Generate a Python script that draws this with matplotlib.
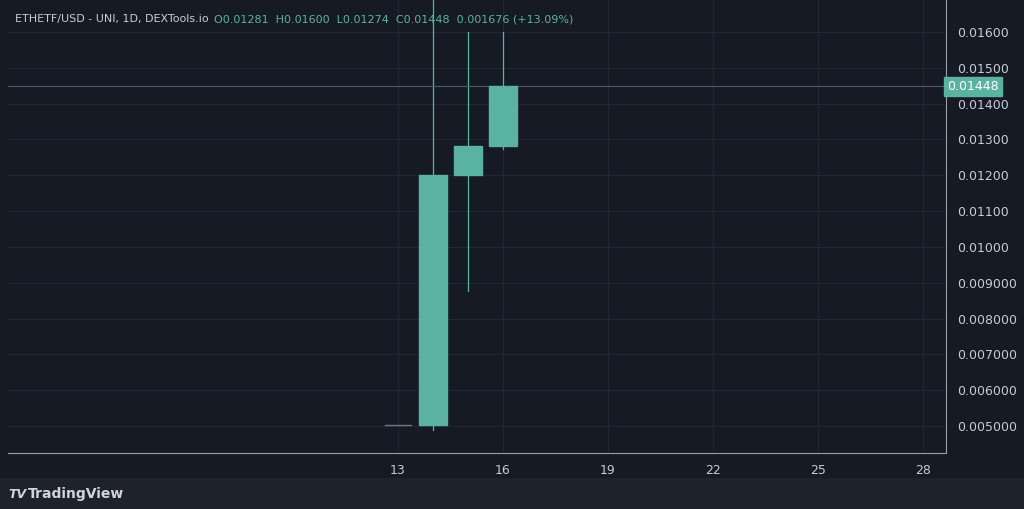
import matplotlib.pyplot as plt
from matplotlib.patches import Rectangle

# Daily candles (day of month)
days = [13, 14, 15, 16]
opens = [0.00504, 0.00504, 0.01200, 0.01281]
highs = [0.00504, 0.01700, 0.01600, 0.01600]
lows = [0.00504, 0.00490, 0.00877, 0.01274]
closes = [0.00504, 0.01200, 0.01281, 0.01448]
price_ticks = [0.005, 0.006, 0.007, 0.008, 0.009, 0.010, 0.011, 0.012, 0.013, 0.014, 0.015, 0.016]
price_labels = ["0.005000", "0.006000", "0.007000", "0.008000", "0.009000", "0.01000",
                "0.01100", "0.01200", "0.01300", "0.01400", "0.01500", "0.01600"]
day_ticks = [13, 16, 19, 22, 25, 28]
last_close = 0.01448

bg = "#161a25"
up = "#5ab3a2"
grid = "#232735"
text = "#c8cbd3"

fig = plt.figure(figsize=(10.24, 5.09), dpi=100, facecolor=bg)
ax = fig.add_axes([8 / 1024, 56 / 509, 938 / 1024, 453 / 509], facecolor=bg)
ax.set_xlim(1.86, 28.66)
ax.set_ylim(0.004246, 0.016893)

for d, o, h, l, c in zip(days, opens, highs, lows, closes):
    if o == c:
        ax.plot([d - 0.38, d + 0.38], [o, o], color="#6f7480", lw=1)
        continue
    ax.plot([d, d], [l, h], color=up, lw=0.9, zorder=2)
    ax.add_patch(Rectangle((d - 0.4, min(o, c)), 0.8, abs(c - o), facecolor=up,
                           edgecolor=up, zorder=3))

ax.axhline(last_close, color="#4a5a66", lw=0.8)
ax.set_yticks(price_ticks)
ax.set_xticks(day_ticks)
ax.set_xticklabels([str(d) for d in day_ticks])
ax.grid(True, color=grid, lw=0.8)
ax.yaxis.tick_right()
ax.set_yticklabels(price_labels)
ax.tick_params(colors=text, labelsize=9, length=0, pad=8)
for s in ["top", "left"]:
    ax.spines[s].set_visible(False)
ax.spines["right"].set_color("#9a9ea8")
ax.spines["bottom"].set_color("#9a9ea8")
ax.text(1.0015, last_close, "0.01448", transform=ax.get_yaxis_transform(),
        color="white", fontsize=9, va="center", ha="left",
        bbox=dict(boxstyle="square,pad=0.25", fc=up, ec=up))

fig.patches.append(Rectangle((0, 0), 1, 31 / 509, transform=fig.transFigure,
                             facecolor="#1e222d", edgecolor="none"))
fig.text(8 / 1024, 15 / 509, "TV", color="#d1d4dc", fontsize=9, va="center",
         fontweight="heavy", fontstyle="italic")
fig.text(28 / 1024, 15 / 509, "TradingView", color="#d1d4dc", fontsize=10,
         va="center", fontweight="bold")

fig.text(15 / 1024, 1 - 19 / 509, "ETHETF/USD - UNI, 1D, DEXTools.io", color=text,
         fontsize=8, va="center")
fig.text(214 / 1024, 1 - 19 / 509,
         "O0.01281  H0.01600  L0.01274  C0.01448  0.001676 (+13.09%)",
         color=up, fontsize=8, va="center")

fig.savefig("out.png", facecolor=bg)
